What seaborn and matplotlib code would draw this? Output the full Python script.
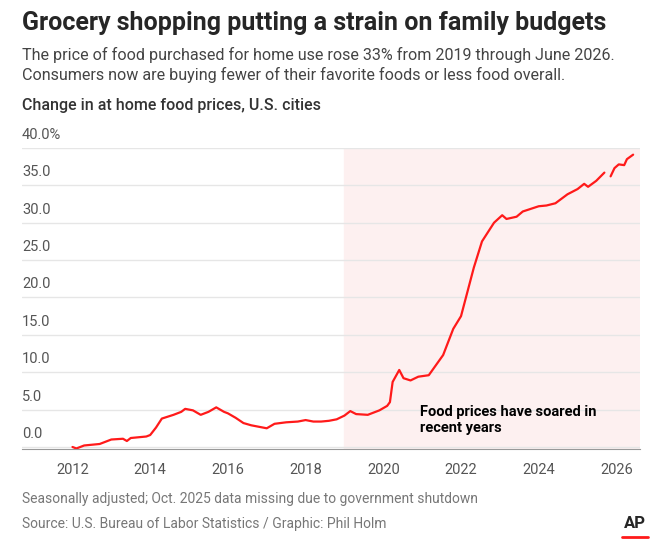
import numpy as np
import pandas as pd
import seaborn as sns
from matplotlib import pyplot as plt
import matplotlib.transforms as mtransforms

# NaN marks the missing Oct. 2025 reading
years = [2012.0, 2012.1, 2012.3, 2012.7, 2013.0, 2013.3, 2013.4, 2013.5, 2013.9, 2014.0,
         2014.15, 2014.3, 2014.6, 2014.8, 2014.9, 2015.1, 2015.3, 2015.5, 2015.7, 2015.9,
         2016.0, 2016.2, 2016.4, 2016.6, 2016.8, 2017.0, 2017.2, 2017.5, 2017.8, 2018.0,
         2018.2, 2018.4, 2018.6, 2018.8, 2019.0, 2019.15, 2019.3, 2019.6, 2019.9, 2020.1,
         2020.17, 2020.24, 2020.41, 2020.52, 2020.7, 2020.9, 2021.17, 2021.54, 2021.8, 2022.0,
         2022.33, 2022.54, 2022.85, 2023.06, 2023.17, 2023.43, 2023.59, 2024.0, 2024.2, 2024.43,
         2024.74, 2025.0, 2025.17, 2025.27, 2025.48, 2025.69, 2025.77, 2025.85, 2025.95, 2026.06,
         2026.2, 2026.27, 2026.43]
change = [0.0, -0.2, 0.2, 0.4, 1.0, 1.1, 0.8, 1.2, 1.4, 1.6,
          2.6, 3.8, 4.3, 4.7, 5.1, 4.9, 4.3, 4.7, 5.3, 4.7,
          4.5, 3.9, 3.2, 2.9, 2.7, 2.5, 3.1, 3.3, 3.4, 3.6,
          3.4, 3.4, 3.5, 3.7, 4.2, 4.8, 4.4, 4.3, 4.9, 5.5,
          6.0, 8.7, 10.3, 9.2, 8.9, 9.4, 9.6, 12.3, 15.8, 17.5,
          24.0, 27.5, 30.0, 31.0, 30.5, 30.8, 31.5, 32.2, 32.3, 32.6,
          33.8, 34.5, 35.2, 34.8, 35.6, 36.7, np.nan, 36.2, 37.3, 37.8,
          37.7, 38.5, 39.1]
yticks = [0, 5, 10, 15, 20, 25, 30, 35, 40]
ylabels = ['0.0', '5.0', '10.0', '15.0', '20.0', '25.0', '30.0', '35.0', '40.0%']
xticks = [2012, 2014, 2016, 2018, 2020, 2022, 2024, 2026]

df = pd.DataFrame({'year': years, 'change': change})
# split the line at the missing month
df['segment'] = df['change'].isna().cumsum()
df = df.dropna()

sns.set_style('white')
plt.rcParams['font.family'] = ['Roboto', 'DejaVu Sans']

fig = plt.figure(figsize=(6.72, 5.52), dpi=100)
ax = fig.add_axes([0.0327, 0.1866, 0.9193, 0.5454])

ax.axvspan(2019.0, 2027, color='#fdf0f0', zorder=0)
for y in yticks:
    ax.axhline(y, color='#e6e6e6', lw=1, zorder=1)
sns.lineplot(data=df, x='year', y='change', units='segment', estimator=None,
             color='#ff1a1a', lw=1.6, ax=ax, zorder=3)

ax.set_xlim(2010.7, 2026.6)
ax.set_ylim(-0.27, 40)
ax.set_xticks(xticks)
ax.set_xticklabels([str(x) for x in xticks], color='#555555', fontsize=10.5)
ax.set_yticks([])
ax.set_xlabel('')
ax.set_ylabel('')
for s in ['top', 'right', 'left']:
    ax.spines[s].set_visible(False)
ax.spines['bottom'].set_color('#999999')
ax.tick_params(axis='x', direction='out', length=4, color='#999999', pad=6)

trans = mtransforms.blended_transform_factory(ax.transAxes, ax.transData)
for y, lab in zip(yticks, ylabels):
    ax.text(0, y + 0.8, lab, transform=trans, ha='left', va='bottom',
            color='#555555', fontsize=10.5)

ax.text(2020.95, 5.6, 'Food prices have soared in\nrecent years', fontsize=10.5,
        fontweight='bold', color='black', va='top', linespacing=1.2)

fig.text(0.0327, 0.98, 'Grocery shopping putting a strain on family budgets',
         fontsize=18, fontweight='bold', va='top')
fig.text(0.0327, 0.915, 'The price of food purchased for home use rose 33% from 2019 through June 2026.\n'
         'Consumers now are buying fewer of their favorite foods or less food overall.',
         fontsize=11.6, color='#444444', va='top', linespacing=1.3)
fig.text(0.0327, 0.822, 'Change in at home food prices, U.S. cities', fontsize=11.5,
         color='#333333', fontweight='medium', va='top')
fig.text(0.0327, 0.108, 'Seasonally adjusted; Oct. 2025 data missing due to government shutdown',
         fontsize=10, color='#777777', va='top')
fig.text(0.0327, 0.063, 'Source: U.S. Bureau of Labor Statistics / Graphic: Phil Holm',
         fontsize=10, color='#777777', va='top')
fig.text(0.945, 0.065, 'AP', fontsize=12, fontweight='bold', va='top', ha='center')
fig.add_artist(plt.Line2D([0.925, 0.965], [0.028, 0.028], color='#ff1a1a', lw=2))

fig.savefig('out.png', dpi=100)
